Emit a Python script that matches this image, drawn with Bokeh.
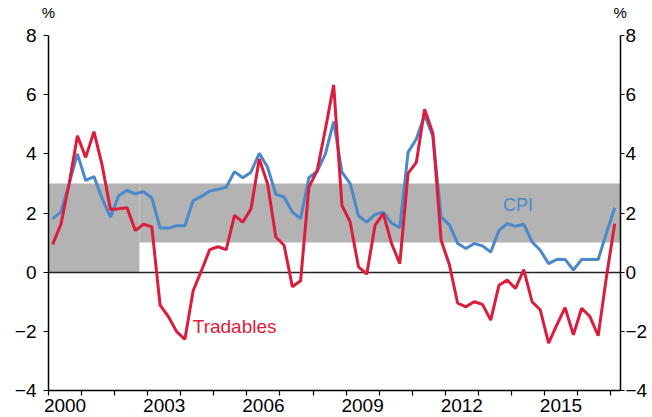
from bokeh.plotting import figure
from bokeh.models import (LinearAxis, FixedTicker, Range1d, Label, ColumnDataSource)
from bokeh.embed import file_html
from bokeh.resources import INLINE

# ---- data (quarterly, annual % change) ----
start_year = 2000
cpi = [1.81, 2.03, 2.99, 4.00, 3.10, 3.23, 2.48, 1.86, 2.59, 2.76, 2.65, 2.72,
       2.51, 1.49, 1.49, 1.57, 1.57, 2.42, 2.56, 2.74, 2.80, 2.87, 3.40, 3.19,
       3.38, 4.02, 3.55, 2.63, 2.54, 2.03, 1.81, 3.19, 3.41, 4.00, 5.09, 3.38,
       2.99, 1.90, 1.69, 1.95, 2.03, 1.66, 1.50, 4.05, 4.50, 5.31, 4.60, 1.86,
       1.60, 0.97, 0.80, 0.97, 0.89, 0.68, 1.41, 1.64, 1.55, 1.62, 1.02, 0.74,
       0.29, 0.43, 0.43, 0.07, 0.43, 0.43, 0.43, 1.32, 2.18]
tradables = [0.94, 1.62, 2.99, 4.61, 3.88, 4.75, 3.60, 2.12, 2.14, 2.18, 1.41, 1.62,
             1.53, -1.11, -1.50, -2.01, -2.27, -0.63, 0.05, 0.76, 0.86, 0.76, 1.92, 1.69,
             2.14, 3.83, 2.99, 1.19, 0.91, -0.49, -0.29, 2.87, 3.43, 4.84, 6.33, 2.26,
             1.69, 0.18, -0.07, 1.58, 1.98, 0.97, 0.29, 3.34, 3.71, 5.51, 4.70, 1.08,
             0.25, -1.05, -1.17, -1.00, -1.09, -1.62, -0.44, -0.27, -0.55, 0.09, -1.00, -1.28,
             -2.40, -1.78, -1.20, -2.12, -1.22, -1.50, -2.15, -0.16, 1.64]

# inflation target bands
band_start = [2000.0, 2002.75]
band_end = [2002.75, 2017.3]
band_low = [0, 1]
band_high = [3, 3]

year_labels = [2000, 2003, 2006, 2009, 2012, 2015]
year_bounds = list(range(2000, 2018))
y_ticks = [-4, -2, 0, 2, 4, 6, 8]
unit_label = "%"

x_quarters = [start_year + (i + 0.5) / 4 for i in range(len(cpi))]

FONT = "Liberation Sans"
BLUE = "#4a88c9"
RED = "#dc1c3c"
X0, X1 = 2000, 2017.3

p = figure(width=650, height=417, output_backend="svg", toolbar_location=None,
           x_range=Range1d(X0, X1), y_range=Range1d(-4, 8),
           min_border_left=48, min_border_right=30, min_border_top=33,
           min_border_bottom=27)
p.outline_line_color = None
p.xgrid.visible = False
p.ygrid.visible = False
p.background_fill_color = "white"
p.border_fill_color = "white"

# band
p.quad(left=band_start, right=band_end, bottom=band_low, top=band_high,
       fill_color="#b3b3b3", line_color=None)
# zero line
p.hspan(y=[0], line_color="#222222", line_width=1.5)

src = ColumnDataSource(dict(x=x_quarters, cpi=cpi, tr=tradables))
p.line("x", "cpi", source=src, line_color=BLUE, line_width=3)
p.line("x", "tr", source=src, line_color=RED, line_width=3)

# axes
minus = {v: ("\u2212" + str(abs(v)) if v < 0 else str(v)) for v in y_ticks}

def style_axis(ax):
    ax.axis_line_color = "black"
    ax.axis_line_width = 1.5
    ax.major_tick_line_color = "black"
    ax.major_tick_line_width = 1.2
    ax.minor_tick_line_color = "black"
    ax.minor_tick_line_width = 1.2
    ax.major_label_text_font = FONT
    ax.major_label_text_font_size = "19px"
    ax.major_label_text_color = "black"
    ax.major_tick_in = 0

yl = p.yaxis[0]
yl.ticker = FixedTicker(ticks=y_ticks)
yl.major_label_overrides = minus
style_axis(yl)
yl.major_tick_out = 5
yl.major_label_standoff = 7

yr = LinearAxis(ticker=FixedTicker(ticks=y_ticks), major_label_overrides=minus)
style_axis(yr)
yr.major_tick_out = 4
yr.major_label_standoff = 1
p.add_layout(yr, "right")

xb = p.xaxis[0]
xb.ticker = FixedTicker(ticks=[y + 0.5 for y in year_labels], minor_ticks=year_bounds)
xb.major_label_overrides = {y + 0.5: str(y) for y in year_labels}
style_axis(xb)
xb.major_tick_out = 0
xb.minor_tick_out = 5
xb.minor_tick_in = 0
xb.major_label_standoff = 3

# "%" unit labels above both value axes
unit_ticks = [X0 + 0.001, X1 - 0.01]
xt = LinearAxis(ticker=FixedTicker(ticks=unit_ticks, minor_ticks=[]),
                major_label_overrides={t: unit_label for t in unit_ticks})
xt.axis_line_color = None
xt.major_tick_line_color = None
xt.minor_tick_line_color = None
xt.major_label_text_font = FONT
xt.major_label_text_font_size = "15px"
xt.major_label_text_color = "black"
xt.major_label_standoff = 9
p.add_layout(xt, "above")

# series labels
p.add_layout(Label(x=2014.2, y=2.27, text="CPI", text_font=FONT,
                   text_font_size="18px", text_align="center",
                   text_baseline="middle", text_color=BLUE))
p.add_layout(Label(x=2005.63, y=-1.85, text="Tradables", text_font=FONT,
                   text_font_size="19px", text_align="center",
                   text_baseline="middle", text_color=RED))

open("out.html", "w").write(file_html(p, INLINE))
